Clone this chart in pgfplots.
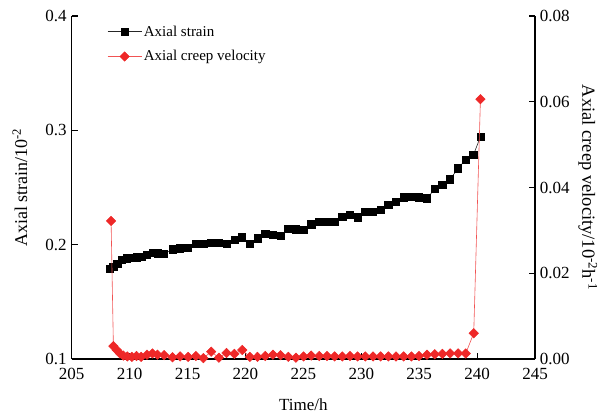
\documentclass[border=0pt]{standalone}
\usepackage{fontspec}
\setmainfont{Liberation Serif}
\usepackage{pgfplots}
\usepackage{pgfplotstable}
\pgfplotsset{compat=1.18}
\definecolor{myred}{RGB}{238,40,40}

\pgfplotstableread{
x y
208.31 0.1787
208.60 0.1807
208.94 0.1836
209.32 0.1865
209.75 0.1880
210.19 0.1886
210.62 0.1890
211.05 0.1895
211.48 0.1910
211.97 0.1930
212.40 0.1924
212.98 0.1918
213.70 0.1960
214.36 0.1968
215.05 0.1973
215.72 0.2005
216.37 0.2005
217.04 0.2014
217.71 0.2014
218.36 0.2005
219.05 0.2046
219.72 0.2064
220.38 0.2011
221.04 0.2055
221.71 0.2095
222.37 0.2084
223.03 0.2075
223.70 0.2136
224.36 0.2134
225.02 0.2128
225.68 0.2178
226.37 0.2200
227.04 0.2200
227.70 0.2200
228.36 0.2244
229.03 0.2259
229.68 0.2239
230.35 0.2288
231.02 0.2288
231.67 0.2303
232.34 0.2346
233.00 0.2375
233.66 0.2414
234.33 0.2419
234.99 0.2414
235.68 0.2405
236.34 0.2486
237.00 0.2521
237.67 0.2571
238.36 0.2668
239.02 0.2743
239.68 0.2784
240.29 0.2944
}\strain

\pgfplotstableread{
x v
208.40 0.0322
208.60 0.0030
208.89 0.0021
209.17 0.0013
209.46 0.0008
209.80 0.0006
210.20 0.0005
210.60 0.0007
211.00 0.0005
211.50 0.0010
211.97 0.0013
212.40 0.0010
212.98 0.0009
213.70 0.0004
214.36 0.0006
215.05 0.0005
215.72 0.0007
216.37 0.0002
217.04 0.0017
217.71 0.0003
218.36 0.0014
219.05 0.0012
219.72 0.0021
220.38 0.0005
221.04 0.0005
221.71 0.0007
222.37 0.0010
223.03 0.0009
223.70 0.0005
224.36 0.0003
225.02 0.0006
225.68 0.0008
226.37 0.0007
227.04 0.0007
227.70 0.0006
228.36 0.0006
229.03 0.0007
229.68 0.0006
230.35 0.0006
231.02 0.0006
231.67 0.0006
232.34 0.0006
233.00 0.0006
233.66 0.0006
234.33 0.0006
234.99 0.0007
235.68 0.0010
236.34 0.0011
237.00 0.0012
237.67 0.0013
238.36 0.0013
239.02 0.0013
239.71 0.0060
240.29 0.0606
}\velocity

\begin{document}
\begin{tikzpicture}
\pgfplotsset{
  every axis/.append style={
    width=463.3bp, height=343bp, scale only axis,
    xmin=205, xmax=245,
    font=\fontsize{17bp}{20bp}\selectfont,
    tick label style={font=\fontsize{17bp}{20bp}\selectfont},
    /pgf/number format/assume math mode=true,
    scaled x ticks=false, scaled y ticks=false,
    tick align=inside, major tick length=6bp,
    axis line style={line width=1.1bp, black},
    every tick/.style={line width=1.1bp, black},
  },
}
\begin{axis}[
  name=ax1,
  axis x line*=bottom, axis y line*=left,
  ymin=0.1, ymax=0.4, ytick={0.1,0.2,0.3,0.4},
  xtick={205,210,215,220,225,230,235,240,245},
  yticklabel style={/pgf/number format/fixed, /pgf/number format/precision=1, /pgf/number format/fixed zerofill, xshift=-1.5bp},
  xticklabel style={/pgf/number format/set thousands separator={}, yshift=-6bp},
  xlabel={Time/h},
  every axis x label/.style={at={(axis description cs:0.5,-0.134)}, anchor=center, inner sep=1bp},
  ylabel={Axial strain/10\textsuperscript{-2}},
  every axis y label/.style={at={(axis description cs:-0.112,0.5)}, rotate=90, anchor=center, inner sep=1bp, font=\fontsize{18bp}{21bp}\selectfont},
]
\addplot[black!85, line width=0.6bp, mark=square*, mark size=3.6bp, mark options={solid, fill=black, draw=black}] table[x=x, y=y] {\strain};
\end{axis}
\begin{axis}[
  axis y line*=right, axis x line=none,
  ymin=0, ymax=0.08, ytick={0,0.02,0.04,0.06,0.08},
  yticklabel style={/pgf/number format/fixed, /pgf/number format/precision=2, /pgf/number format/fixed zerofill, xshift=1.4bp},
  ylabel={Axial creep velocity/10\textsuperscript{-2}h\textsuperscript{-1}},
  every axis y label/.style={at={(axis description cs:1.114,0.5)}, rotate=-90, anchor=center, inner sep=1bp, font=\fontsize{18.5bp}{21bp}\selectfont},
  legend style={at={(axis description cs:0.07,0.984)}, anchor=north west, draw=none, fill=none,
    font=\fontsize{15bp}{18bp}\selectfont, row sep=9bp},
  legend cell align=left,
  legend image code/.code={\draw[mark repeat=2, mark phase=2, #1] plot coordinates {(0bp,0bp) (17bp,0bp) (34bp,0bp)};},
]
\addlegendimage{black!85, line width=0.6bp, mark=square*, mark size=3.6bp, mark options={solid, fill=black, draw=black}}
\addlegendentry{Axial strain}
\addplot[myred!80, line width=0.6bp, mark=square*, mark size=3.3bp, mark options={solid, rotate=45, fill=myred, draw=myred}] table[x=x, y=v] {\velocity};
\addlegendentry{Axial creep velocity}
\end{axis}
\path ([shift={(-71.7bp,-57bp)}]ax1.south west) rectangle ([shift={(71bp,16bp)}]ax1.north east);
\end{tikzpicture}
\end{document}
